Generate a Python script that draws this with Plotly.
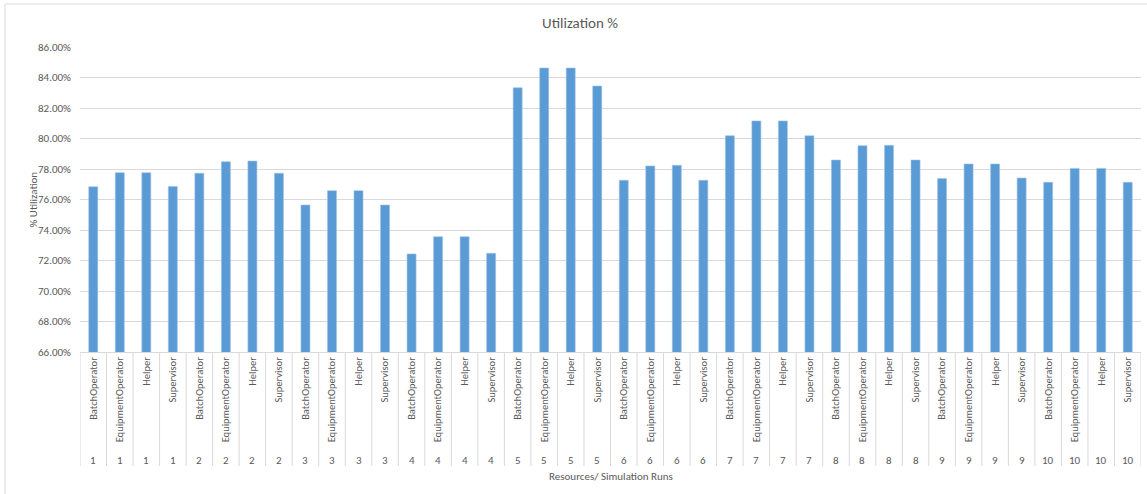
import plotly.graph_objects as go

resources = ["BatchOperator", "EquipmentOperator", "Helper", "Supervisor"] * 10
runs = [str(r) for r in range(1, 11) for _ in range(4)]
utilization = [
    76.84, 77.76, 77.76, 76.86,
    77.72, 78.48, 78.52, 77.72,
    75.64, 76.58, 76.58, 75.64,
    72.43, 73.56, 73.56, 72.47,
    83.33, 84.62, 84.62, 83.44,
    77.26, 78.20, 78.24, 77.26,
    80.18, 81.15, 81.15, 80.18,
    78.59, 79.53, 79.55, 78.59,
    77.37, 78.33, 78.33, 77.41,
    77.13, 78.04, 78.04, 77.13,
]
y_ticks = [66, 68, 70, 72, 74, 76, 78, 80, 82, 84, 86]

W, H = 1147, 494
L, R, T, B = 80, 6, 47, 142
ph = H - T - B
pw = W - L - R
grey = "#595959"
line = "#d9d9d9"
font = "Calibri, Carlito, 'Liberation Sans Narrow', Roboto, 'Liberation Sans', sans-serif"

idx = list(range(len(utilization)))

fig = go.Figure(go.Bar(x=idx, y=utilization, marker=dict(color="#5b9bd5", line=dict(color="#9cc3e6", width=0.6))))

def py(px):
    return (H - B - px) / ph

shapes = []
for i in range(len(idx) + 1):
    shapes.append(dict(type="line", xref="x", yref="paper", x0=i - 0.5, x1=i - 0.5,
                       y0=0, y1=py(466), line=dict(color=line, width=1)))
shapes.append(dict(type="rect", xref="paper", yref="paper",
                   x0=(5 - L) / pw, x1=(W + 20 - L) / pw, y0=py(H + 20), y1=py(4),
                   line=dict(color=line, width=1)))

annotations = []
for i, r in zip(idx, runs):
    annotations.append(dict(x=i, y=py(460), xref="x", yref="paper", text=r, showarrow=False,
                            font=dict(family=font, size=11, color=grey), xanchor="center", yanchor="middle"))
annotations.append(dict(x=0.5, y=py(476), xref="paper", yref="paper", text="Resources/ Simulation Runs",
                        showarrow=False, font=dict(family=font, size=11, color=grey),
                        xanchor="center", yanchor="middle"))
annotations.append(dict(x=(33 - L) / pw, y=0.5, xref="paper", yref="paper", text="% Utilization",
                        textangle=-90, showarrow=False, font=dict(family=font, size=11, color=grey),
                        xanchor="center", yanchor="middle"))

fig.update_layout(
    width=W, height=H,
    margin=dict(l=L, r=R, t=T, b=B),
    paper_bgcolor="white", plot_bgcolor="white",
    bargap=0.66,
    showlegend=False,
    title=dict(text="Utilization %", xref="container", yref="container", x=580 / W, y=1 - 23 / H,
               xanchor="center", yanchor="middle", font=dict(family=font, size=15, color=grey)),
    xaxis=dict(range=[-0.5, len(idx) - 0.5], tickmode="array", tickvals=idx, ticktext=resources,
               tickangle=-90, tickfont=dict(family=font, size=10.5, color=grey),
               showgrid=False, showline=True, linecolor=line, ticks="", zeroline=False),
    yaxis=dict(range=[66, 86], tickmode="array", tickvals=y_ticks,
               ticktext=[f"{v:.2f}%" for v in y_ticks],
               tickfont=dict(family=font, size=11, color=grey),
               showgrid=True, gridcolor=line, gridwidth=1, zeroline=False, showline=False,
               ticklabelstandoff=8),
    shapes=shapes,
    annotations=annotations,
    font=dict(family=font),
)

fig.write_html("out.html")
